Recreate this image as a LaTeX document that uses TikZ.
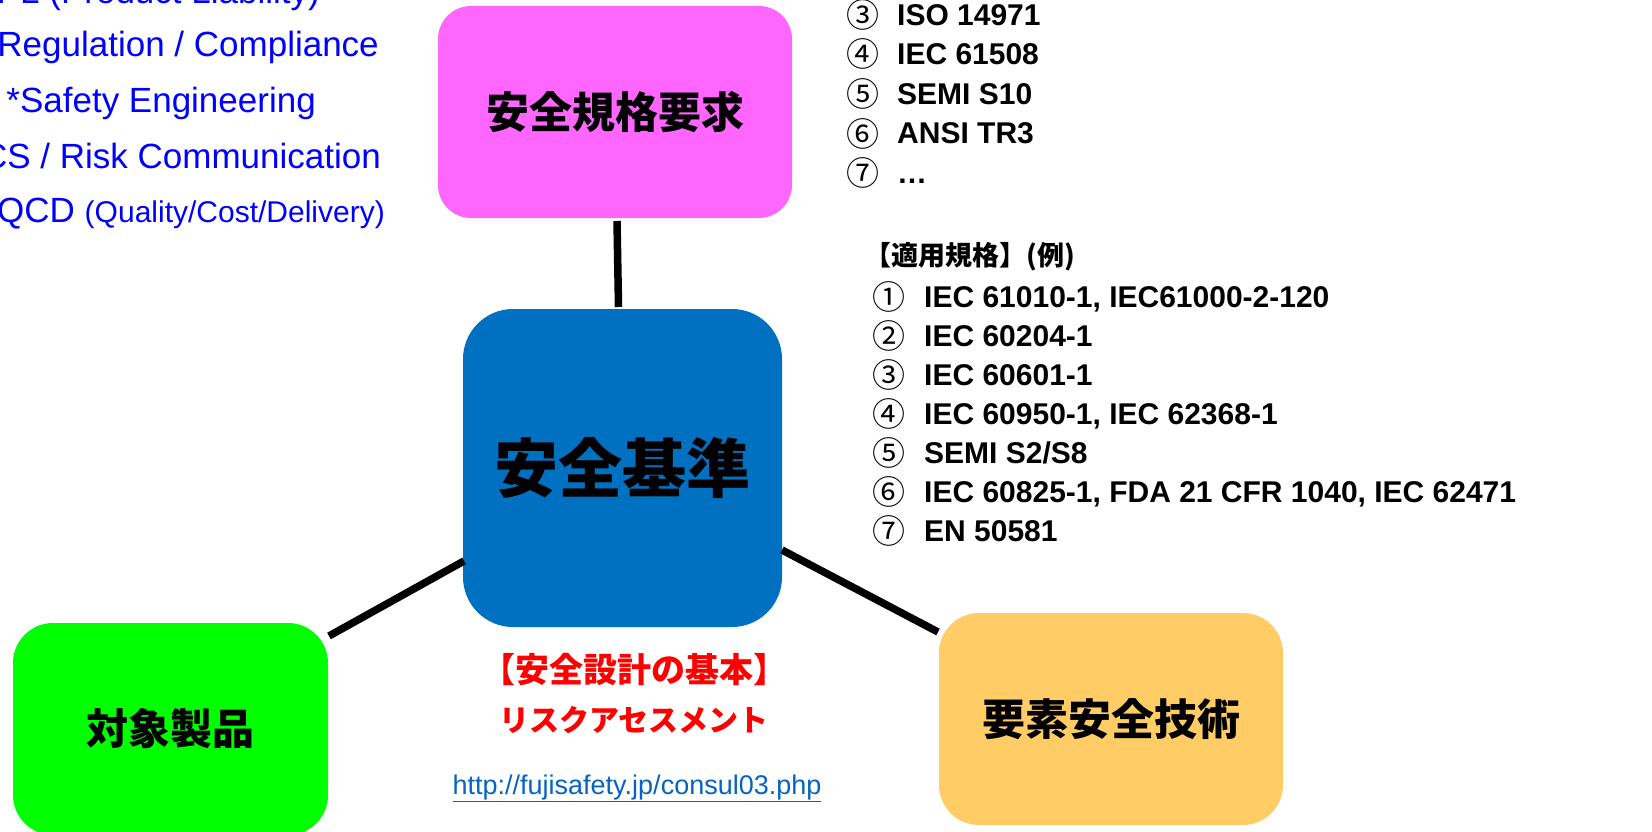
\documentclass[tikz,border=0pt]{standalone}
\usepackage{fontspec}
\setmainfont{Liberation Sans}
\newfontfamily\jp{Noto Sans CJK JP}
\newcommand{\setfs}[1]{\fontsize{#1}{#1}\selectfont}
\newcommand{\circnum}[1]{\raisebox{-2pt}{\jp\mdseries\setfs{33}#1}}
\definecolor{pinkbox}{RGB}{255,102,255}
\definecolor{bluebox}{RGB}{0,112,192}
\definecolor{greenbox}{RGB}{0,255,0}
\definecolor{orangebox}{RGB}{255,204,102}
\definecolor{urlblue}{RGB}{5,99,193}
\definecolor{txtblue}{RGB}{0,0,255}
\definecolor{redtxt}{RGB}{255,0,0}
\begin{document}
\begin{tikzpicture}[x=1pt,y=-1pt,
  box/.style={rectangle, rounded corners=#1, inner sep=0pt, outer sep=0pt, draw=none},
  boxtxt/.style={font={\jp\bfseries\setfs{#1}}, text=black},
  conn/.style={line width=7.5pt, draw=black},
  bluetxt/.style={inner sep=0pt, anchor=base east, text=txtblue, font={\setfs{35}}},
  toplist/.style={inner sep=0pt, anchor=base west, font={\bfseries\setfs{30}}},
  midlist/.style={inner sep=0pt, anchor=base west, font={\bfseries\setfs{30}}},
  redlbl/.style={inner sep=0pt, anchor=base, text=redtxt, font={\jp\bfseries\setfs{#1}}}
]
\useasboundingbox (0,0) rectangle (1652,832);
\clip (0,0) rectangle (1652,832);

% boxes
\node[box=33pt, fill=pinkbox, minimum width=354pt, minimum height=212pt, boxtxt=43] (req) at (615,112) {\raisebox{2pt}{安全規格要求}};
\node[box=50pt, fill=bluebox, minimum width=319pt, minimum height=318pt, boxtxt=64] (std) at (622.5,468) {\raisebox{4pt}{安全基準}};
\node[box=40pt, fill=greenbox, minimum width=315pt, minimum height=212pt, boxtxt=42] (prod) at (170.5,729) {対象製品};
\node[box=40pt, fill=orangebox, minimum width=344pt, minimum height=212pt, boxtxt=43] (tech) at (1111,719) {\raisebox{1pt}{要素安全技術}};

% connectors
\draw[conn] ([shift={(2,3)}]req.south) -- ([shift={(-4,-2)}]std.north);
\draw[conn] ([shift={(1,13)}]prod.north east) -- ([shift={(1,93)}]std.west);
\draw[conn] ([shift={(0,82)}]std.east) -- ([shift={(-1,19)}]tech.north west);

% top-left blue text
\node[bluetxt] (t1) at (320,4) {PL (Product Liability)};
\node[bluetxt] (t2) at (379,57) {Regulation / Compliance};
\node[bluetxt] (t3) at (316,113) {*Safety Engineering};
\node[bluetxt] (t4) at (381,168) {CS / Risk Communication};
\node[bluetxt] (t5) at (385,222) {QCD {\setfs{30}(Quality/Cost/Delivery)}};

% top-right list
\node[toplist] (a3) at (846,26) {\makebox[51pt][l]{\circnum{③}}ISO 14971};
\node[toplist] (a4) at (846,65) {\makebox[51pt][l]{\circnum{④}}IEC 61508};
\node[toplist] (a5) at (846,104.5) {\makebox[51pt][l]{\circnum{⑤}}SEMI S10};
\node[toplist] (a6) at (846,144) {\makebox[51pt][l]{\circnum{⑥}}ANSI TR3};
\node[toplist] (a7) at (846,183) {\makebox[51pt][l]{\circnum{⑦}}…};

% middle-right list
\node[inner sep=0pt, anchor=base west, font={\jp\bfseries\setfs{27}}] (hd) at (864,265) {【適用規格】(例)};
\node[midlist] (b1) at (872,307) {\makebox[52pt][l]{\circnum{①}}IEC 61010-1, IEC61000-2-120};
\node[midlist] (b2) at (872,346) {\makebox[52pt][l]{\circnum{②}}IEC 60204-1};
\node[midlist] (b3) at (872,385) {\makebox[52pt][l]{\circnum{③}}IEC 60601-1};
\node[midlist] (b4) at (872,424) {\makebox[52pt][l]{\circnum{④}}IEC 60950-1, IEC 62368-1};
\node[midlist] (b5) at (872,463) {\makebox[52pt][l]{\circnum{⑤}}SEMI S2/S8};
\node[midlist] (b6) at (872,502) {\makebox[52pt][l]{\circnum{⑥}}IEC 60825-1, FDA 21 CFR 1040, IEC 62471};
\node[midlist] (b7) at (872,541) {\makebox[52pt][l]{\circnum{⑦}}EN 50581};

% red labels
\node[redlbl=34] (r1) at (634,682) {【安全設計の基本】};
\node[redlbl=30] (r2) at (634,731) {リスクアセスメント};

% url
\node[inner sep=0pt, anchor=base, text=urlblue, font={\setfs{27}}] (url) at (637,794) {\underline{http://fujisafety.jp/consul03.php}};
\end{tikzpicture}
\end{document}
